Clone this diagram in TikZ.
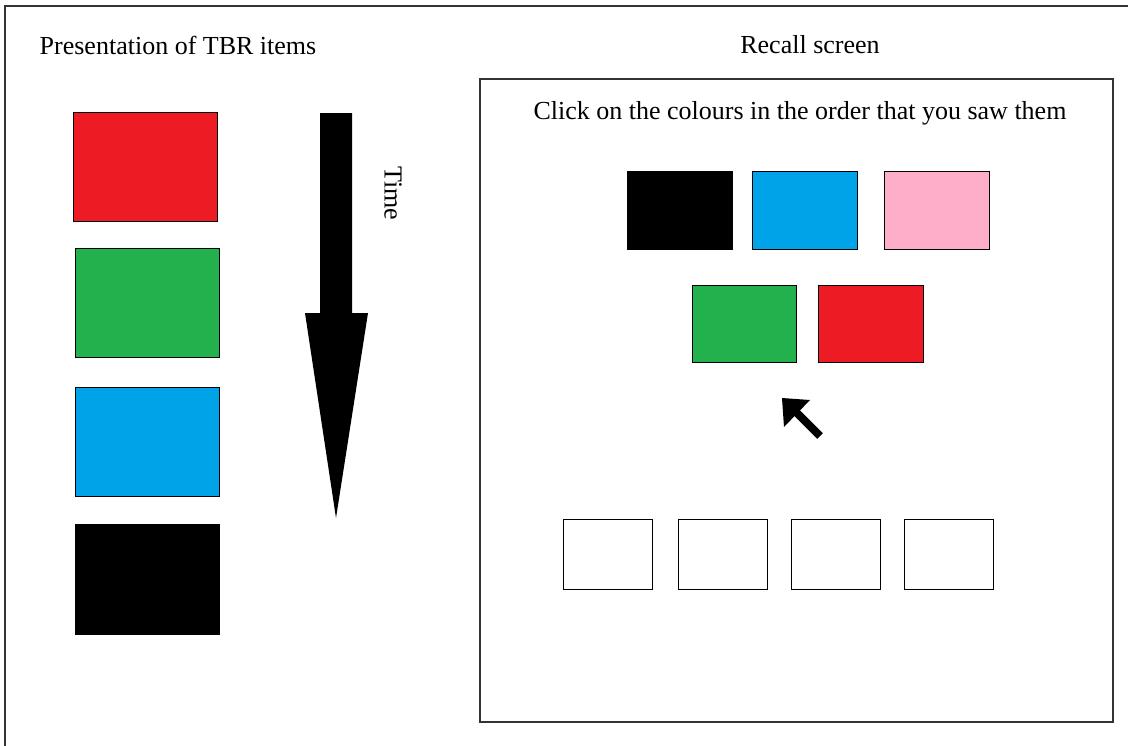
\documentclass[tikz,border=0pt]{standalone}
\usepackage{fontspec}
\setmainfont{Liberation Serif}
\definecolor{pRed}{HTML}{ED1C24}
\definecolor{pGreen}{HTML}{22B14C}
\definecolor{pBlue}{HTML}{00A2E8}
\definecolor{pPink}{HTML}{FFAEC9}
\definecolor{frameGrey}{HTML}{333333}
\tikzset{
  swatch/.style={draw=black, line width=1pt, inner sep=0pt, anchor=north west},
  slot/.style={draw=black, line width=1pt, fill=white, inner sep=0pt, anchor=north west, minimum width=89pt, minimum height=70pt},
  label/.style={font=\fontsize{26}{31}\selectfont, inner sep=0pt},
}
\begin{document}
\begin{tikzpicture}[x=1pt, y=-1pt]
  \useasboundingbox (0,0) rectangle (1128,745);
  \fill[white] (0,0) rectangle (1128,745);
  % outer frame (runs past the right and bottom edges)
  \draw[frameGrey, line width=1.6pt] (5,760) -- (5,6) -- (1140,6);

  % left panel: items shown one after another
  \node[label] (ttl) at (178,45) {Presentation of TBR items};
  \node[swatch, fill=pRed,   minimum width=144pt, minimum height=109pt] (i1) at (73,112) {};
  \node[swatch, fill=pGreen, minimum width=144pt, minimum height=109pt] (i2) at (75,248) {};
  \node[swatch, fill=pBlue,  minimum width=144pt, minimum height=109pt] (i3) at (75,387) {};
  \node[swatch, fill=black,  minimum width=144pt, minimum height=110pt] (i4) at (75,524) {};

  % time arrow
  \fill[black] (320,113) -- (352,113) -- (352,313) -- (368,313) -- (336,518)
               -- (305,313) -- (320,313) -- cycle;
  \node[label, rotate=-90] (time) at (393,193) {Time};

  % right panel: recall screen
  \node[label] (rtl) at (810,45) {Recall screen};
  \draw[frameGrey, line width=1.4pt] (480,79) rectangle (1113,722);
  \node[label] (instr) at (800,113) {Click on the colours in the order that you saw them};

  \node[swatch, fill=black, minimum width=105pt, minimum height=78pt] (c1) at (627,171) {};
  \node[swatch, fill=pBlue, minimum width=105pt, minimum height=78pt] (c2) at (752,171) {};
  \node[swatch, fill=pPink, minimum width=105pt, minimum height=78pt] (c3) at (884,171) {};
  \node[swatch, fill=pGreen, minimum width=104pt, minimum height=77pt] (c4) at (692,285) {};
  \node[swatch, fill=pRed,   minimum width=105pt, minimum height=77pt] (c5) at (818,285) {};

  % mouse pointer
  \fill[black] (782,398) -- (810,400) -- (784,427) -- cycle;
  \draw[black, line width=8pt] (793,409) -- (820,436);

  % answer slots
  \node[slot] (s1) at (563,519) {};
  \node[slot] (s2) at (678,519) {};
  \node[slot] (s3) at (791,519) {};
  \node[slot] (s4) at (904,519) {};
\end{tikzpicture}
\end{document}
